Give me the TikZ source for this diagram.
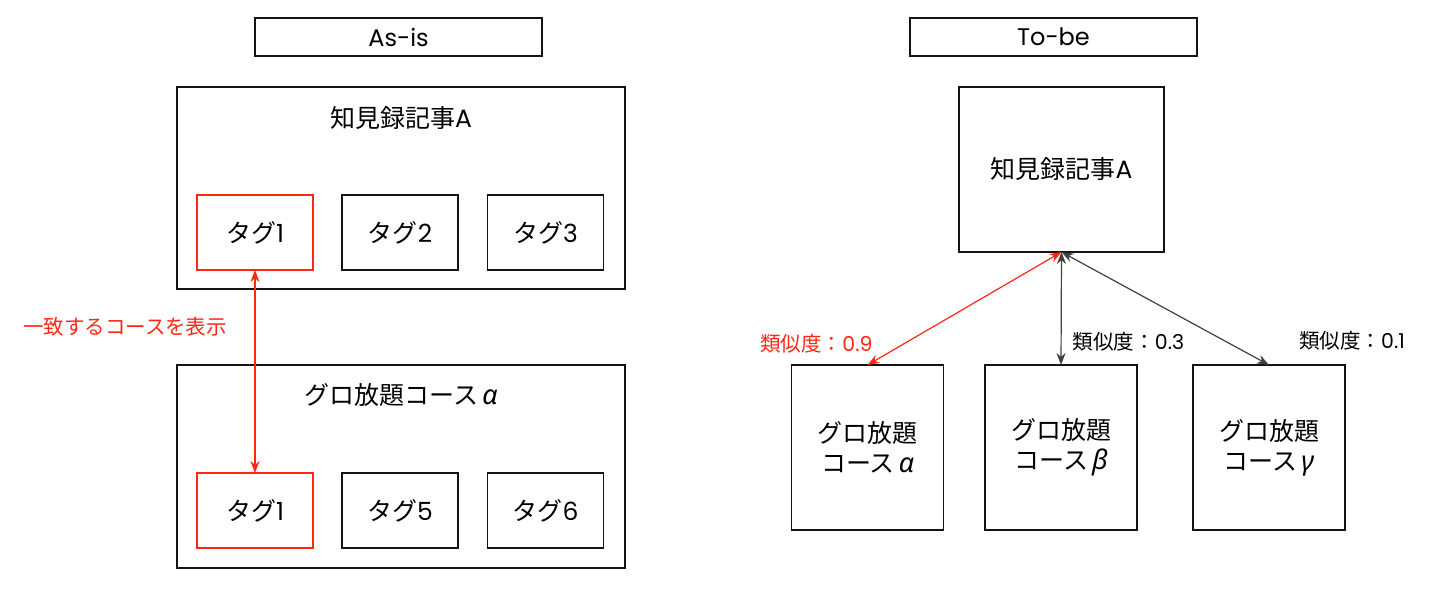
\documentclass[tikz,border=0pt]{standalone}
\usepackage{fontspec}
\setmainfont{Noto Sans CJK JP}
\newfontfamily\lat{Poppins}
\newfontfamily\grk{Noto Sans}
\newcommand{\gk}[1]{\kern4pt{\grk\itshape\fontsize{27}{30}\selectfont #1}}
\usetikzlibrary{arrows.meta}
\definecolor{myred}{RGB}{255,38,18}
\definecolor{dgray}{RGB}{64,64,64}
\definecolor{lineblk}{RGB}{20,20,20}
\tikzset{
  box/.style={draw=lineblk, line width=1.2pt, rectangle, inner sep=0pt, outer sep=0pt, fill=white},
  redbox/.style={box, draw=myred},
  big/.style={font=\fontsize{25}{30}\selectfont},
  small/.style={font=\fontsize{20.5}{24}\selectfont},
  ttl/.style={font=\fontsize{24}{28}\selectfont\lat},
  tip/.style={{Stealth[length=12pt,width=9pt]}-{Stealth[length=12pt,width=9pt]}},
}
\begin{document}
\begin{tikzpicture}[x=1pt,y=-1pt]
\useasboundingbox (0,0) rectangle (1440,598);
% titles
\node[box, ttl, minimum width=287pt, minimum height=38pt] (asis) at (398.5,37) {As-is};
\node[box, ttl, minimum width=287pt, minimum height=38pt] (tobe) at (1053.5,37) {To-be};
% left upper
\node[box, minimum width=448pt, minimum height=202pt] (artL) at (401,188) {};
\node[big] (artLt) at (401,118) {知見録記事{\lat A}};
\node[redbox, big, minimum width=116pt, minimum height=75pt] (ta1) at (255,232.5) {タグ{\lat 1}};
\node[box, big, minimum width=116pt, minimum height=75pt] (ta2) at (400,232.5) {タグ{\lat 2}};
\node[box, big, minimum width=116pt, minimum height=75pt] (ta3) at (545.5,232.5) {タグ{\lat 3}};
% left lower
\node[box, minimum width=448pt, minimum height=203pt] (crsL) at (401,466.5) {};
\node[big] (crsLt) at (401,395) {グロ放題コース\gk{α}};
\node[redbox, big, minimum width=116pt, minimum height=75pt] (tb1) at (255,510.5) {タグ{\lat 1}};
\node[box, big, minimum width=116pt, minimum height=75pt] (tb5) at (400,510.5) {タグ{\lat 5}};
\node[box, big, minimum width=116pt, minimum height=75pt] (tb6) at (545.5,510.5) {タグ{\lat 6}};
\draw[myred, line width=1.2pt, tip] (ta1.south) -- (tb1.north);
\node[small, text=myred] (match) at (125,327) {一致するコースを表示};
% right
\node[box, big, minimum width=205pt, minimum height=165pt] (artR) at (1061.5,169.5) {知見録記事{\lat A}};
\node[box, big, minimum width=152pt, minimum height=165pt, align=center] (ca) at (867.5,447.5) {グロ放題\\コース\gk{α}};
\node[box, big, minimum width=152pt, minimum height=165pt, align=center] (cb) at (1061,447.5) {グロ放題\\コース\gk{β}};
\node[box, big, minimum width=152pt, minimum height=165pt, align=center] (cg) at (1269,447.5) {グロ放題\\コース\gk{γ}};
\coordinate (hub) at (artR.south);
\draw[myred, line width=1.2pt, tip] (hub) -- (ca.north);
\draw[dgray, line width=1.2pt, tip] (hub) -- (cb.north);
\draw[dgray, line width=1.2pt, tip] (hub) -- (cg.north);
\node[small, text=myred] (sa) at (816.5,344) {類似度：{\lat 0.9}};
\node[small] (sb) at (1128.5,342) {類似度：{\lat 0.3}};
\node[small] (sg) at (1352,341) {類似度：{\lat 0.1}};
\end{tikzpicture}
\end{document}
